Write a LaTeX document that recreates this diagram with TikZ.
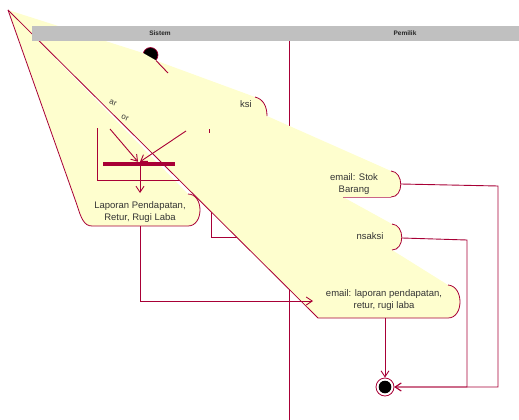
\documentclass[tikz,border=0pt]{standalone}
\usepackage{fontspec}
\setmainfont{Liberation Sans}
\usetikzlibrary{arrows.meta,positioning,calc}
\definecolor{umlred}{HTML}{A80036}
\definecolor{umlyellow}{HTML}{FEFECE}
\definecolor{lanegray}{HTML}{C0C0C0}
\tikzset{
  act label/.style={
    font=\fontsize{9.5}{11.5}\selectfont,
    text=black!80,
    align=center,
    inner sep=0pt,
  },
  lane label/.style={
    font=\bfseries\fontsize{6.5}{7}\selectfont,
    text=black!85,
    inner sep=0pt,
  },
  frag label/.style={act label, rotate=-20, font=\fontsize{8}{9}\selectfont},
  act edge/.style={draw=umlred, line width=0.8pt},
  flow line/.style={draw=umlred, line width=0.9pt},
  flow arrow/.style={flow line, -{Straight Barb[length=6pt,width=8pt]}},
  start dot/.style={circle, fill=black, draw=umlred, line width=0.6pt, minimum size=15pt, inner sep=0pt},
  end ring/.style={circle, fill=white, draw=umlred, line width=0.8pt, minimum size=18pt, inner sep=0pt},
  join bar/.style={rectangle, fill=umlred, minimum width=72pt, minimum height=4pt, inner sep=0pt},
}

\begin{document}
\begin{tikzpicture}[x=1pt,y=-1pt]
  \useasboundingbox (0,0) rectangle (519,420);

  % lane divider and start
  \coordinate (div top) at (289.5,41);
  \coordinate (div bot) at (289.5,420);
  \draw[act edge,line width=0.6pt] (div top) -- (div bot);
  \node[start dot] (start) at (150.5,55) {};

  % left shape (Laporan)
  \coordinate (apex) at (8,10);
  \fill[umlyellow] (apex) -- (77,205) .. controls (81,218) and (84,226) .. (92,226)
    -- (188,226) .. controls (204,226) and (204,194) .. (188,194) -- cycle;
  \draw[act edge] (apex) -- (77,205) .. controls (81,218) and (84,226) .. (92,226)
    -- (188,226) .. controls (204,226) and (204,194) .. (188,194);

  % flows under the right shape
  \coordinate (loop top) at (97,128);
  \coordinate (loop end) at (185,180);
  \draw[flow line] (loop top) |- (loop end);
  \coordinate (box top) at (211,207);
  \coordinate (box end) at (240,237);
  \draw[flow line] (box top) |- (box end);

  % right shape
  \fill[umlyellow] (apex) -- (143,53) -- (157,61) -- (255,97)
    .. controls (263,99) and (267,106) .. (267,116) -- (391,171)
    .. controls (404,172) and (404,197) .. (391,197) -- (343,197) -- (392,224)
    .. controls (405,225) and (405,250) .. (392,250) -- (448,285)
    .. controls (464,286) and (464,318) .. (448,318) -- (318,318) -- cycle;
  \draw[act edge] (apex) -- (318,318) -- (448,318)
    .. controls (464,318) and (464,286) .. (448,285);
  \draw[act edge] (255,97) .. controls (263,99) and (267,106) .. (267,116);
  \draw[act edge] (391,171) .. controls (404,172) and (404,197) .. (391,197);
  \draw[act edge,draw=umlred!60] (391,197) -- (343,197);
  \draw[act edge] (392,224) .. controls (405,225) and (405,250) .. (392,250);

  \node[act label] (act a) at (246,104) {ksi};
  \node[act label] (stok) at (354,184) {email: Stok\\Barang};
  \node[act label] (trans) at (370,236) {nsaksi};
  \node[act label] (mail) at (384,300) {email: laporan pendapatan,\\retur, rugi laba};
  \node[frag label] (frag a) at (113,103) {ar};
  \node[frag label] (frag b) at (125,118) {or};

  % join and flows on top
  \node[join bar] (join) at (139,164) {};
  \coordinate (in a) at (110,129);
  \coordinate (in b) at (186,131);
  \draw[flow arrow] (in a) -- ($(join.north)+(-1,0)$);
  \draw[flow arrow] (in b) -- ($(join.north)+(1,0)$);
  \coordinate (lap top) at (140,193);
  \draw[flow arrow] (join.south -| lap top) -- (lap top);
  \node[act label] (lap) at (140,212) {Laporan Pendapatan,\\Retur, Rugi Laba};

  \coordinate (start stub) at (168,73);
  \draw[flow line] (start.-45) -- (start stub);
  \coordinate (tick a) at (209,129);
  \coordinate (tick b) at (209,133);
  \draw[flow line] (tick a) -- (tick b);
  \coordinate (lap bot) at (140,226);
  \coordinate (mail in) at (313,301);
  \draw[flow arrow] (lap bot) |- (mail in);

  \node[end ring] (end) at (385,387) {};
  \fill[black] (end.center) circle (6.3);
  \coordinate (mail bot) at (385,318);
  \draw[flow arrow] (mail bot) -- (end.north);
  \coordinate (stok out) at (401,184);
  \coordinate (stok turn) at (498,186);
  \draw[flow arrow] (stok out) -- (stok turn) |- (end.east);
  \coordinate (trans out) at (402,238);
  \coordinate (trans turn) at (467,240);
  \draw[flow arrow] (trans out) -- (trans turn) |- (end.east);

  % lane header
  \fill[lanegray] (32,26) rectangle (519,41);
  \node[lane label] (lane sys) at (160,33.5) {Sistem};
  \node[lane label] (lane own) at (405,33.5) {Pemilik};
\end{tikzpicture}
\end{document}
